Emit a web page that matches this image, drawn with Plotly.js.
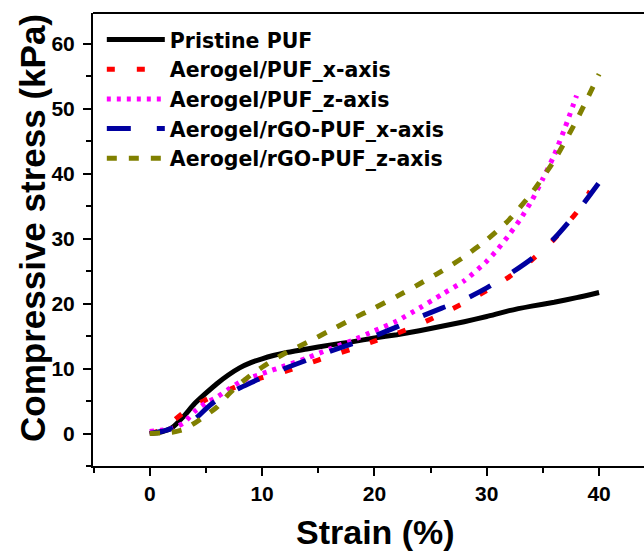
<!DOCTYPE html>
<html>
<head>
<meta charset="utf-8">
<script src="https://cdn.plot.ly/plotly-3.0.1.min.js"></script>
<style>
  html, body { margin: 0; padding: 0; background: #ffffff; }
  #chart { width: 644px; height: 554px; }
</style>
</head>
<body>
<div id="chart"></div>
<script>
// ---- Data (strain %, stress kPa) ----
const seriesNames = [
  "Pristine PUF",
  "Aerogel/PUF_x-axis",
  "Aerogel/PUF_z-axis",
  "Aerogel/rGO-PUF_x-axis",
  "Aerogel/rGO-PUF_z-axis"
];

const pristineStrain = [0, 1, 2, 3, 4, 5, 6, 7, 8, 9, 10, 11, 12, 14, 16, 18, 20, 22, 24, 26, 28, 30, 32, 34, 36, 38, 40];
const pristineStress = [0, 0.2, 0.9, 2.6, 4.6, 6.2, 7.7, 9.0, 10.1, 10.9, 11.5, 12.0, 12.4, 13.0, 13.6, 14.1, 14.7, 15.2, 15.8, 16.5, 17.2, 18.0, 18.9, 19.6, 20.2, 20.9, 21.7];

const pufXStrain = [0, 1, 2, 3, 4, 5, 6, 7, 8, 9, 10, 12, 14, 16, 18, 20, 22, 24, 26, 28, 30, 32, 34, 36, 37, 38, 39.2];
const pufXStress = [0, 0.5, 1.8, 3.2, 4.3, 5.2, 6.0, 6.7, 7.4, 8.0, 8.6, 9.5, 10.7, 11.9, 13.0, 14.2, 15.4, 16.8, 18.4, 20.1, 22.0, 24.1, 26.7, 29.9, 32.0, 34.0, 37.3];

const pufZStrain = [0, 1, 2, 3, 4, 5, 6, 7, 8, 9, 10, 12, 14, 16, 18, 20, 22, 24, 26, 28, 30, 31, 32, 33, 34, 35, 36, 37, 38];
const pufZStress = [0.3, 0.5, 0.8, 1.6, 3.4, 4.7, 5.6, 6.8, 7.9, 8.6, 9.2, 10.4, 11.6, 13.0, 14.3, 15.8, 17.3, 19.3, 21.4, 23.5, 26.5, 28.4, 30.6, 33.0, 35.8, 39.2, 42.8, 47.2, 52.0];

const rgoXStrain = [0, 1, 2, 3, 4, 5, 6, 7, 8, 9, 10, 12, 14, 16, 18, 20, 22, 24, 26, 28, 30, 32, 34, 36, 38, 40];
const rgoXStress = [0, 0.3, 0.8, 1.4, 2.2, 3.8, 5.2, 6.1, 7.0, 7.8, 8.6, 10.0, 11.3, 12.6, 13.8, 15.0, 16.4, 17.9, 19.3, 20.6, 22.4, 24.5, 26.9, 30.0, 34.0, 38.6];

const rgoZStrain = [0, 1, 2, 3, 4, 5, 6, 7, 8, 9, 10, 11, 12, 14, 16, 18, 20, 22, 24, 26, 28, 30, 32, 34, 36, 38, 39, 40];
const rgoZStress = [0, 0.1, 0.2, 0.6, 1.6, 2.8, 4.1, 6.0, 7.6, 9.0, 10.2, 11.3, 12.3, 14.0, 15.8, 17.6, 19.3, 21.1, 23.0, 25.0, 27.2, 29.8, 32.9, 37.0, 42.0, 48.2, 51.7, 55.3];

const xTickVals = [0, 10, 20, 30, 40];
const yTickVals = [0, 10, 20, 30, 40, 50, 60];

const xTitle = "Strain (%)";
const yTitle = "Compressive stress (kPa)";

// ---- Traces ----
const FONT = "Arial, 'Liberation Sans', sans-serif";
const LEGEND_FONT = "'DejaVu Sans', Arial, sans-serif";
const traces = [
  { x: pristineStrain, y: pristineStress, name: seriesNames[0], mode: "lines",
    line: { color: "#000000", width: 5, shape: "spline", smoothing: 0.6 } },
  { x: pufXStrain, y: pufXStress, name: seriesNames[1], mode: "lines",
    line: { color: "#FF0000", width: 5, dash: "8px,22px", shape: "spline", smoothing: 0.6 } },
  { x: pufZStrain, y: pufZStress, name: seriesNames[2], mode: "lines",
    line: { color: "#FF00FF", width: 5, dash: "4px,6px", shape: "spline", smoothing: 0.6 } },
  { x: rgoXStrain, y: rgoXStress, name: seriesNames[3], mode: "lines",
    line: { color: "#0000A0", width: 5, dash: "24px,26px", shape: "spline", smoothing: 0.6 } },
  { x: rgoZStrain, y: rgoZStress, name: seriesNames[4], mode: "lines",
    line: { color: "#808000", width: 5, dash: "10px,12px", shape: "spline", smoothing: 0.6 } }
];

const axisCommon = {
  showgrid: false,
  zeroline: false,
  showline: true,
  linecolor: "#000000",
  linewidth: 2,
  ticks: "outside",
  ticklen: 8,
  tickwidth: 2,
  tickcolor: "#000000",
  tickfont: { family: FONT, size: 21, color: "#000000", weight: 700 },
  minor: { ticks: "outside", ticklen: 5, tickwidth: 2, tickcolor: "#000000", dtick: 5, tick0: 0 }
};

const layout = {
  width: 644,
  height: 554,
  margin: { l: 93, r: 0, t: 13, b: 88 },
  paper_bgcolor: "#ffffff",
  plot_bgcolor: "#ffffff",
  showlegend: true,
  legend: {
    x: 0.016, y: 0.985, xanchor: "left", yanchor: "top",
    bgcolor: "rgba(0,0,0,0)",
    font: { family: LEGEND_FONT, size: 20.5, color: "#000000", weight: 700 },
    itemwidth: 58,
    tracegroupgap: 0
  },
  xaxis: Object.assign({}, axisCommon, {
    range: [-5.05, 44.0],
    tickmode: "array", tickvals: xTickVals,
    ticklabelstandoff: 0
  }),
  yaxis: Object.assign({}, axisCommon, {
    range: [-5, 64.7],
    tickmode: "array", tickvals: yTickVals,
    ticklabelstandoff: 4
  }),
  annotations: [
    { text: xTitle, xref: "paper", yref: "paper", x: (375 - 93) / 551, y: -(532 - 466) / 453,
      xanchor: "center", yanchor: "middle", showarrow: false,
      font: { family: FONT, size: 34, color: "#000000", weight: 700 } },
    { text: yTitle, xref: "paper", yref: "paper", x: (32 - 93) / 551, y: (466 - 228) / 453,
      xanchor: "center", yanchor: "middle", showarrow: false, textangle: -90,
      font: { family: FONT, size: 35, color: "#000000", weight: 700 } }
  ],
  shapes: [
    { type: "line", xref: "paper", yref: "paper", x0: 0, x1: 1, y0: 1, y1: 1,
      line: { color: "#000000", width: 2 } }
  ]
};

Plotly.newPlot("chart", traces, layout, { displayModeBar: false, staticPlot: true });
</script>
</body>
</html>
